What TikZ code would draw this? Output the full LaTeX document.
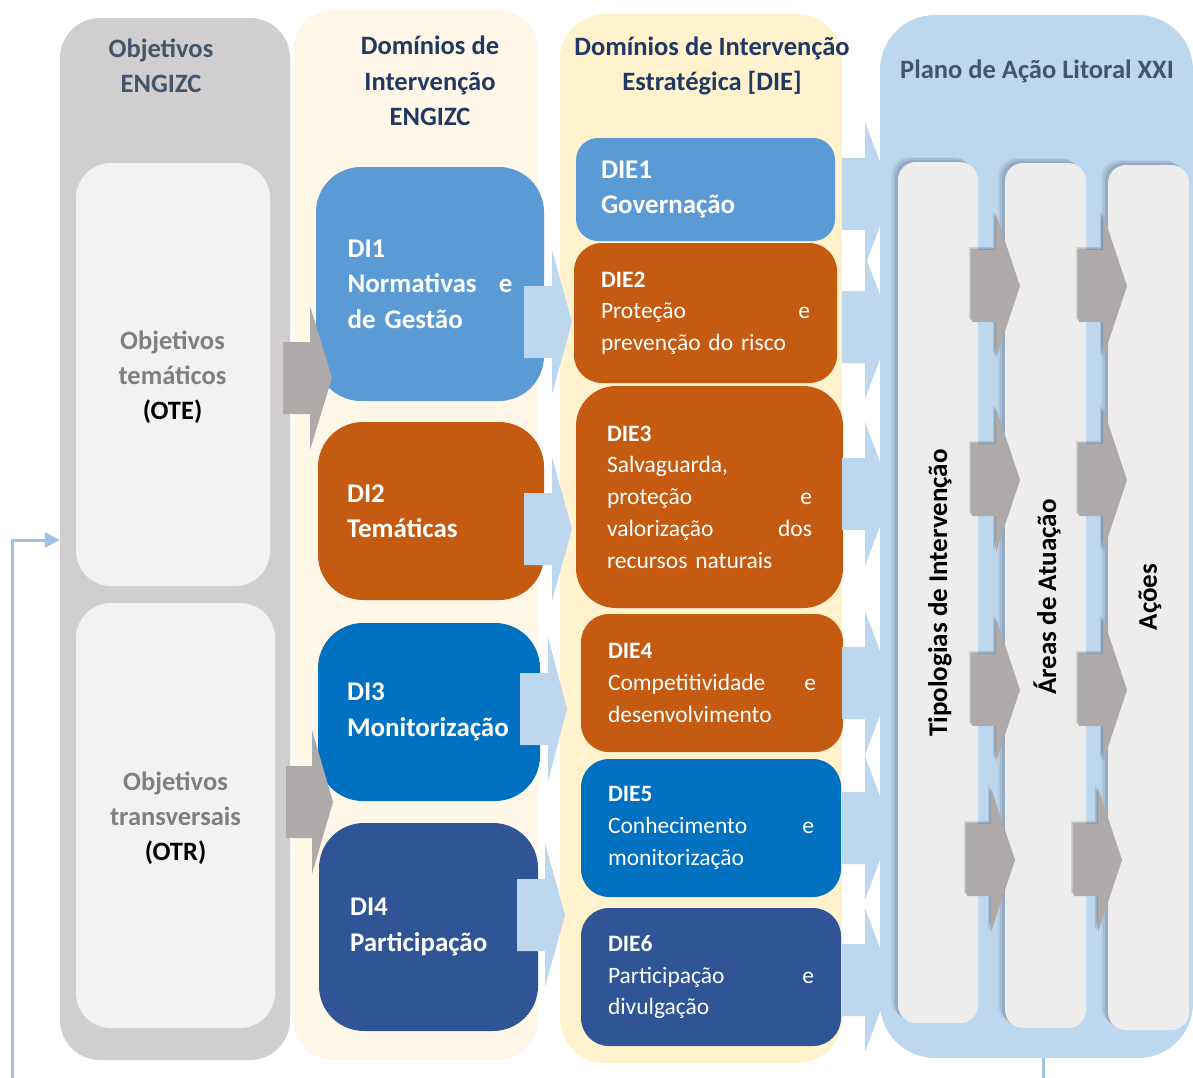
\documentclass[tikz,border=0pt]{standalone}
\usepackage{fontspec}
\setmainfont{Carlito}
\usetikzlibrary{arrows.meta,shadows}

\definecolor{colgray}{HTML}{D0CECE}
\definecolor{boxgray}{HTML}{F2F2F2}
\definecolor{cream}{HTML}{FFF8E9}
\definecolor{lightcream}{HTML}{FFF2CC}
\definecolor{lightblue}{HTML}{BDD7EE}
\definecolor{fbblue}{HTML}{9DC3E6}
\definecolor{panelgray}{HTML}{EDEDED}
\definecolor{arrowgray}{HTML}{AEAAAA}
\definecolor{shadowblue}{HTML}{44546A}
\definecolor{slate}{HTML}{44546A}
\definecolor{navy}{HTML}{203864}
\definecolor{txtgray}{HTML}{7F7F7F}
\definecolor{midblue}{HTML}{5B9BD5}
\definecolor{strongblue}{HTML}{0070C0}
\definecolor{darkblue}{HTML}{2F5597}
\definecolor{rust}{HTML}{C55A11}

\newcommand{\spread}{\hskip 0pt plus 1filll\relax}
% block arrow: style, left x, centre y, shaft length, head length
\newcommand{\blockarrow}[5]{%
  \fill[#1] (#2,#3-36) -- ++(#4,0) -- ++(0,-36) -- ++(#5,72) -- ++(-#5,72)
    -- ++(0,-36) -- ++(-#4,0) -- cycle;}

\begin{document}
\begin{tikzpicture}[x=1pt,y=-1pt,
  colbg/.style={inner sep=0pt, rounded corners=40pt},
  coltitle/.style={font=\bfseries\fontsize{26.5}{35.5}\selectfont, align=center},
  objbox/.style={fill=boxgray, rounded corners=35pt, inner sep=0pt},
  objlabel/.style={align=center, text=txtgray, font=\bfseries\fontsize{26.5}{35}\selectfont},
  dibox/.style={rounded corners=45pt, inner sep=0pt, align=left, text=white,
    font=\bfseries\fontsize{27}{35.5}\selectfont},
  diebox/.style={rounded corners=28pt, inner sep=0pt, align=left, text=white,
    font=\fontsize{23.5}{31.7}\selectfont},
  softshadow/.style={
    drop shadow={shadow xshift=-7pt, shadow yshift=5pt, fill=shadowblue, opacity=0.08},
    drop shadow={shadow xshift=-5pt, shadow yshift=4pt, fill=shadowblue, opacity=0.12},
    drop shadow={shadow xshift=-3pt, shadow yshift=2pt, fill=shadowblue, opacity=0.18}},
  panel/.style={fill=panelgray, rounded corners=18pt, inner sep=0pt, softshadow},
  vertlabel/.style={rotate=90, font=\bfseries\fontsize{27}{35}\selectfont},
  grayarrow/.style={fill=arrowgray},
  shadedarrow/.style={fill=arrowgray,
    drop shadow={shadow xshift=-3pt, shadow yshift=3pt, fill=black, opacity=0.12},
    drop shadow={shadow xshift=-1.5pt, shadow yshift=1.5pt, fill=black, opacity=0.18}},
  bluearrow/.style={fill=lightblue},
  feedback/.style={draw=fbblue, line width=3pt, -{Triangle[length=15pt,width=15pt]}}]

\useasboundingbox (0,0) rectangle (1193,1077);

% columns
\node[colbg, fill=colgray, minimum width=230, minimum height=1042] (objcol) at (175,539) {};
\node[colbg, fill=cream, minimum width=245, minimum height=1050] (dicol) at (415.5,535) {};
\node[colbg, fill=lightcream, rounded corners=45pt, minimum width=282, minimum height=1049] (diecol) at (701,538.5) {};
\node[colbg, fill=lightblue, rounded corners=55pt, minimum width=313, minimum height=1043] (plan) at (1036.5,536.5) {};

% titles
\node[coltitle, text=slate] (objtitle) at (161,66) {Objetivos\\ENGIZC};
\node[coltitle, text=navy] (dititle) at (430,81) {Domínios de\\Intervenção\\ENGIZC};
\node[coltitle, text=navy] (dietitle) at (712,66) {Domínios de Intervenção\\Estratégica [DIE]};
\node[coltitle, text=slate] (plantitle) at (1037,71) {Plano de Ação Litoral XXI};

% objetivos
\node[objbox, minimum width=194, minimum height=423] (ote) at (173,374.5) {};
\node[objlabel] (otelabel) at (172.5,377.5) {Objetivos\\temáticos\\{\color{black}(OTE)}};
\node[objbox, minimum width=199, minimum height=425] (otr) at (175.5,815.5) {};
\node[objlabel] (otrlabel) at (175.5,818.5) {Objetivos\\transversais\\{\color{black}(OTR)}};

% dominios ENGIZC
\node[dibox, fill=midblue, minimum width=228, minimum height=234, text width=165] (di1) at (430,284)
  {DI1\\Normativas\spread e\\de Gestão};
\node[dibox, fill=rust, minimum width=226, minimum height=178, text width=168] (di2) at (431,511)
  {DI2\\Temáticas};
\node[dibox, fill=strongblue, minimum width=222, minimum height=178, text width=164] (di3) at (429,712)
  {DI3\\Monitorização};
\node[dibox, fill=darkblue, minimum width=219, minimum height=208, text width=157] (di4) at (428.5,927)
  {DI4\\Participação};

% dominios estrategicos
\node[diebox, fill=midblue, rounded corners=22pt, minimum width=259, minimum height=103, text width=209,
  font=\bfseries\fontsize{27}{35}\selectfont] (die1) at (705.5,189.5) {DIE1\\Governação};
\node[diebox, fill=rust, minimum width=263, minimum height=140, text width=209] (die2) at (705.5,313)
  {\textbf{DIE2}\\Proteção\spread e\\prevenção do risco};
\node[diebox, fill=rust, rounded corners=40pt, minimum width=267, minimum height=222, text width=205] (die3) at (709.5,497)
  {\textbf{DIE3}\\Salvaguarda,\\proteção\spread e\\valorização\spread dos\\recursos naturais};
\node[diebox, fill=rust, minimum width=262, minimum height=138, text width=208] (die4) at (712,683)
  {\textbf{DIE4}\\Competitividade\spread e\\desenvolvimento};
\node[diebox, fill=strongblue, minimum width=260, minimum height=138, text width=206] (die5) at (711,828)
  {\textbf{DIE5}\\Conhecimento\spread e\\monitorização};
\node[diebox, fill=darkblue, minimum width=260, minimum height=138, text width=206] (die6) at (711,977)
  {\textbf{DIE6}\\Participação\spread e\\divulgação};

% arrows into the plan
\foreach \yc in {194,327,494,683,828,980}
  \blockarrow{bluearrow}{842}{\yc}{23}{27};

% plan panels
\node[panel, minimum width=80, minimum height=861] (tip) at (938,592.5) {};
\node[panel, minimum width=81, minimum height=865] (areas) at (1045.5,595.5) {};
\node[panel, minimum width=81, minimum height=865] (acoes) at (1148.5,597.5) {};

\foreach \yc/\xa/\xb in {286/972/1079, 480/972/1079, 690/972/1079, 860/967/1074} {
  \blockarrow{shadedarrow}{\xa}{\yc}{24}{24};
  \blockarrow{shadedarrow}{\xb}{\yc}{24}{24};
}

\node[vertlabel] (tiplabel) at (940,593) {Tipologias de Intervenção};
\node[vertlabel] (areaslabel) at (1047,597) {Áreas de Atuação};
\node[vertlabel] (acoeslabel) at (1150,597) {Ações};

% arrows between columns
\blockarrow{grayarrow}{283}{378}{27}{22}
\blockarrow{grayarrow}{286}{802}{26}{21}
\blockarrow{bluearrow}{524}{322}{28}{20}
\blockarrow{bluearrow}{524}{529}{28}{20}
\blockarrow{bluearrow}{520}{709}{28}{19}
\blockarrow{bluearrow}{517}{915}{28}{20}

% feedback loop
\coordinate (fbdown) at (1043,1100);
\coordinate (fbleft) at (12,1100);
\coordinate (fbup) at (12,540);
\draw[feedback] ([xshift=6.5pt]plan.south) -- (fbdown) -- (fbleft) -- (fbup) -- (fbup -| objcol.west);
\end{tikzpicture}
\end{document}
